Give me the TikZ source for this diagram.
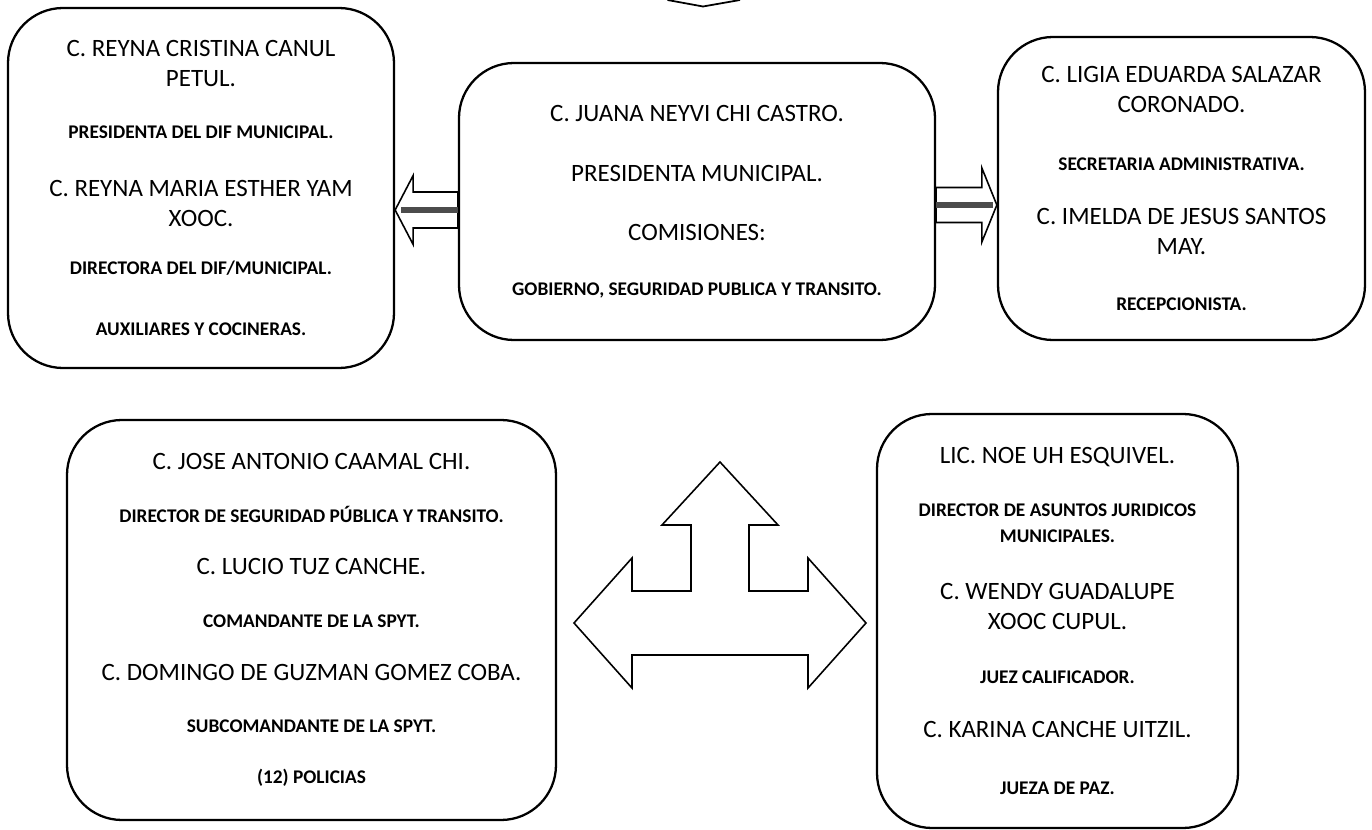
\documentclass[tikz,border=0pt]{standalone}
\usepackage{fontspec}
\setmainfont{Carlito}
\usepackage{tikz}
\usetikzlibrary{positioning}
\usetikzlibrary{calc}
\newcommand{\car}{\fontsize{11}{17}\selectfont\bfseries}
\tikzset{
  cuadro/.style={draw,line width=1.3pt,rounded corners=1.1cm,align=center,inner sep=0pt,font=\fontsize{14.2}{17}\selectfont},
  flecha/.style={draw,line width=0.9pt,fill=white,line join=miter}
}

\begin{document}
\begin{tikzpicture}
\useasboundingbox (0,0) rectangle (27.44,-16.6);

\node[cuadro,minimum width=7.72cm,minimum height=7.2cm] (dif) at (4.02,-3.76)
{C. REYNA CRISTINA CANUL\\ PETUL.\\[13pt]
 {\car PRESIDENTA DEL DIF MUNICIPAL.}\\[16pt]
 C. REYNA MARIA ESTHER YAM\\ XOOC.\\[10pt]
 {\car DIRECTORA DEL DIF/MUNICIPAL.}\\[18pt]
 {\car AUXILIARES Y COCINERAS.}};
\node[cuadro,minimum width=9.52cm,minimum height=5.54cm] (presid) at (13.94,-4.03)
{C. JUANA NEYVI CHI CASTRO.\\[17pt]
 PRESIDENTA MUNICIPAL.\\[17pt]
 COMISIONES:\\[14pt]
 {\car GOBIERNO, SEGURIDAD PUBLICA Y TRANSITO.}};
\node[cuadro,minimum width=7.34cm,minimum height=6.06cm] (sec) at (23.63,-3.77)
{C. LIGIA EDUARDA SALAZAR\\ CORONADO.\\[16pt]
 {\car SECRETARIA ADMINISTRATIVA.}\\[14pt]
 C. IMELDA DE JESUS SANTOS\\ MAY.\\[15pt]
 {\car RECEPCIONISTA.}};
\node[cuadro,minimum width=9.78cm,minimum height=8cm] (seg) at (6.23,-12.4)
{C. JOSE ANTONIO CAAMAL CHI.\\[13pt]
 {\car DIRECTOR DE SEGURIDAD PÚBLICA Y TRANSITO.}\\[13pt]
 C. LUCIO TUZ CANCHE.\\[13pt]
 {\car COMANDANTE DE LA SPYT.}\\[13pt]
 C. DOMINGO DE GUZMAN GOMEZ COBA.\\[13pt]
 {\car SUBCOMANDANTE DE LA SPYT.}\\[12pt]
 {\car (12) POLICIAS}};
\node[cuadro,minimum width=7.22cm,minimum height=8.28cm] (jur) at (21.15,-12.42)
{LIC. NOE UH ESQUIVEL.\\[13pt]
 {\car DIRECTOR DE ASUNTOS JURIDICOS}\\[-2pt]
 {\car MUNICIPALES.}\\[15pt]
 C. WENDY GUADALUPE\\ XOOC CUPUL.\\[14pt]
 {\car JUEZ CALIFICADOR.}\\[14pt]
 C. KARINA CANCHE UITZIL.\\[15pt]
 {\car JUEZA DE PAZ.}};

\coordinate (arriba) at (14.06,-0.13);
\draw[line width=1pt] (13.35,0) -- (arriba) -- (14.8,0);

\coordinate (f1) at (0,-4.2);
\coordinate (f2) at (0,-4.1);
\draw[flecha] (dif.east |- f1) -- ++(0.36,0.69) -- ++(0,-0.33) -- ($(presid.west |- f1)+(0,0.36)$) -- ($(presid.west |- f1)+(0,-0.36)$) -- ($(dif.east |- f1)+(0.36,-0.36)$) -- ++(0,-0.33) -- cycle;
\draw[line width=3pt,black!70] (presid.west |- f1) -- ($(dif.east |- f1)+(0.12,0)$);
\draw[flecha] (sec.west |- f2) -- ++(-0.3,0.74) -- ++(0,-0.39) -- ($(presid.east |- f2)+(0,0.35)$) -- ($(presid.east |- f2)+(0,-0.35)$) -- ($(sec.west |- f2)+(-0.3,-0.35)$) -- ++(0,-0.39) -- cycle;
\draw[line width=3pt,black!70] (presid.east |- f2) -- ($(sec.west |- f2)+(-0.08,0)$);

\coordinate (cruce) at (14.4,-12.46);
\draw[flecha] ($(cruce)+(-2.92,0)$) -- ++(1.16,1.3) -- ++(0,-0.66) -- ++(1.18,0) -- ++(0,1.32) -- ++(-0.58,0) -- ++(1.16,1.26) -- ++(1.16,-1.26) -- ++(-0.58,0) -- ++(0,-1.32) -- ++(1.18,0) -- ++(0,0.66) -- ++(1.16,-1.3) -- ++(-1.16,-1.3) -- ++(0,0.66) -- ++(-3.52,0) -- ++(0,-0.66) -- cycle;
\end{tikzpicture}
\end{document}
